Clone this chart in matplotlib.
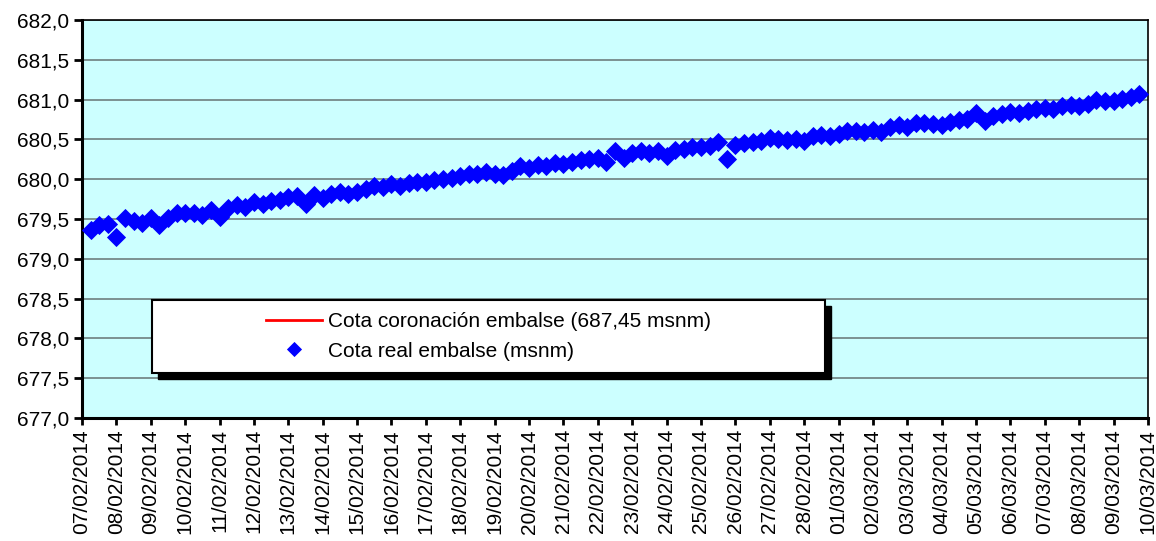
import matplotlib
matplotlib.use("Agg")
import matplotlib.pyplot as plt
import matplotlib.dates as mdates
from matplotlib.patches import Rectangle
from matplotlib.ticker import FuncFormatter, MultipleLocator
import pandas as pd

plt.rcParams['font.family'] = ['Liberation Sans', 'DejaVu Sans']

# ---- data ----
start_time = "2014-02-07 06:00"
n_points = 123
cota_real = [
    679.36, 679.42, 679.44,                    # 07/02
    679.28, 679.51, 679.47, 679.45,            # 08/02
    679.51, 679.42, 679.51, 679.57,            # 09/02
    679.57, 679.57, 679.55, 679.61,            # 10/02
    679.52, 679.64, 679.68, 679.65,            # 11/02
    679.71, 679.69, 679.72, 679.74,            # 12/02
    679.78, 679.79, 679.69, 679.80,            # 13/02
    679.76, 679.82, 679.84, 679.81,            # 14/02
    679.84, 679.88, 679.91, 679.90,            # 15/02
    679.94, 679.92, 679.95, 679.97,            # 16/02
    679.96, 679.99, 680.00, 680.01,            # 17/02
    680.04, 680.06, 680.07, 680.09,            # 18/02
    680.07, 680.05, 680.10, 680.17,            # 19/02
    680.14, 680.18, 680.17, 680.20,            # 20/02
    680.19, 680.22, 680.24, 680.26,            # 21/02
    680.27, 680.22, 680.35, 680.27,            # 22/02
    680.33, 680.35, 680.33, 680.35,            # 23/02
    680.29, 680.37, 680.38, 680.40,            # 24/02
    680.40, 680.42, 680.47, 680.26,            # 25/02
    680.43, 680.45, 680.47, 680.48,            # 26/02
    680.52, 680.50, 680.49, 680.51,            # 27/02
    680.48, 680.54, 680.56, 680.54,            # 28/02
    680.57, 680.60, 680.61, 680.59,            # 01/03
    680.62, 680.59, 680.66, 680.68,            # 02/03
    680.66, 680.70, 680.71, 680.69,            # 03/03
    680.68, 680.72, 680.75, 680.76,            # 04/03
    680.83, 680.73, 680.79, 680.82,            # 05/03
    680.84, 680.83, 680.86, 680.88,            # 06/03
    680.90, 680.88, 680.92, 680.93,            # 07/03
    680.92, 680.95, 681.00, 680.98,            # 08/03
    680.98, 681.01, 681.03, 681.07,            # 09/03
]
cota_coronacion = 687.45
label_coronacion = "Cota coronación embalse (687,45 msnm)"
label_real = "Cota real embalse (msnm)"
x_start = "2014-02-07"
x_end = "2014-03-10"
y_min, y_max, y_step = 677.0, 682.0, 0.5

times = pd.date_range(start_time, periods=n_points, freq="6h")

# ---- figure ----
W, H = 1156, 541
fig = plt.figure(figsize=(W / 100, H / 100), dpi=100)
ax = fig.add_axes([82 / W, 1 - 418 / H, (1148 - 82) / W, (418 - 20) / H])
ax.set_facecolor("#CCFFFF")

ax.plot([pd.Timestamp(x_start), pd.Timestamp(x_end)], [cota_coronacion, cota_coronacion],
        color="red", lw=2, label=label_coronacion)
ax.plot(times, cota_real, linestyle="none", marker="D", ms=9.5, color="#0000FF",
        mec="#0000FF", mew=0.6, label=label_real, zorder=3)

ax.set_xlim(pd.Timestamp(x_start), pd.Timestamp(x_end))
ax.set_ylim(y_min, y_max)
ax.yaxis.set_major_locator(MultipleLocator(y_step))
ax.yaxis.set_major_formatter(FuncFormatter(lambda v, p: f"{v:.1f}".replace(".", ",")))
ax.xaxis.set_major_locator(mdates.DayLocator())
ax.xaxis.set_major_formatter(mdates.DateFormatter("%d/%m/%Y"))

ax.grid(axis="y", color="#6E7F7F", lw=1.2)
ax.set_axisbelow(True)
for s in ax.spines.values():
    s.set_color("black")
    s.set_linewidth(1.2)
ax.spines["left"].set_linewidth(2.2)
ax.spines["bottom"].set_linewidth(2.2)

ax.tick_params(axis="y", direction="out", length=6, width=2, labelsize=15, pad=3, colors="black")
ax.tick_params(axis="x", direction="out", length=5, width=2, labelsize=15, pad=3, colors="black")
for lab in ax.get_xticklabels():
    lab.set_rotation(90)
    lab.set_ha("center")
    lab.set_va("top")

# legend frame with shadow (drawn manually)
bx0, bx1, by0, by1 = 152, 825, 300, 373
shadow = Rectangle((bx0 + 6, H - by1 - 6), bx1 - bx0, by1 - by0, transform=None,
                   facecolor="black", edgecolor="black", zorder=4, clip_on=False)
frame = Rectangle((bx0, H - by1), bx1 - bx0, by1 - by0, transform=None,
                  facecolor="white", edgecolor="black", lw=1.5, zorder=4.5, clip_on=False)
ax.add_artist(shadow)
ax.add_artist(frame)

leg = ax.legend(loc="center", bbox_to_anchor=((bx0 + bx1) / 2 / W, 1 - (by0 + by1) / 2 / H),
                bbox_transform=fig.transFigure, frameon=False, fontsize=15,
                handlelength=2.7, handletextpad=0.3, labelspacing=0.5,
                numpoints=1, borderpad=0, markerscale=0.8)
leg.set_zorder(6)

fig.savefig("out.png", dpi=100)
